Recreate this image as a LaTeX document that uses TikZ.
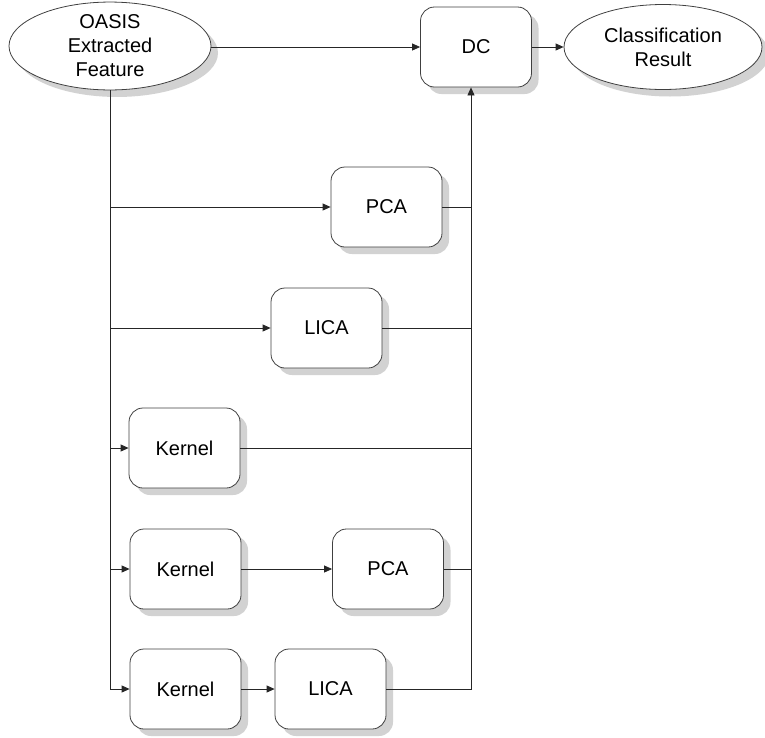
\documentclass[tikz,border=0pt]{standalone}
\usepackage{fontspec}
\setmainfont{Liberation Sans}
\usepackage{xcolor}
\usepackage{tikz}
\usetikzlibrary{arrows.meta,positioning,calc,shapes.geometric,shadows}
\definecolor{edge}{HTML}{404040}
\definecolor{shade}{HTML}{D2D2D2}

\begin{document}
\begin{tikzpicture}[x=1pt, y=-1pt,
  font=\fontsize{20}{24}\selectfont,
  blk/.style={draw=edge, fill=white, rounded corners=14pt, align=center,
              minimum width=111pt, minimum height=80pt, inner sep=2pt, line width=0.8pt,
              drop shadow={shadow xshift=7pt, shadow yshift=-7pt, fill=shade, opacity=1}},
  ell/.style={ellipse, draw=edge, fill=white, align=center, inner sep=0pt,
              minimum width=#1, minimum height=85pt, line width=0.8pt,
              drop shadow={shadow xshift=7pt, shadow yshift=-7pt, fill=shade, opacity=1}},
  ell/.default=202pt,
  ln/.style={draw=black!85, line width=0.8pt},
  arr/.style={ln, -{Triangle[length=8pt, width=7pt]}}]
\useasboundingbox (0,0) rectangle (765,737);
\node[ell=202pt] (oasis) at (110,46) {OASIS\\Extracted\\Feature};
\node[blk] (dc) at (476,47) {DC};
\node[ell=198pt] (res) at (663,47) {Classification\\Result};
\node[blk] (pca1) at (386.5,207) {PCA};
\node[blk] (lica1) at (326.5,328) {LICA};
\node[blk] (k1) at (184.5,448) {Kernel};
\node[blk] (k2) at (185.5,569) {Kernel};
\node[blk] (pca2) at (388,569) {PCA};
\node[blk] (k3) at (185.5,689) {Kernel};
\node[blk] (lica2) at (330.5,689) {LICA};
% top row
\draw[arr] (oasis.east |- dc) -- (dc.west);
\draw[arr] (dc.east) -- (res.west);
% left bus
\draw[arr] (oasis.south) |- (k3.west);
\foreach \n in {pca1, lica1, k1, k2} \draw[arr] (oasis.south |- \n) -- (\n.west);
\draw[arr] (k2.east) -- (pca2.west);
\draw[arr] (k3.east) -- (lica2.west);
% right bus into DC
\draw[arr] (lica2.east) -| ([xshift=-5pt]dc.south);
\foreach \n in {pca1, lica1, k1, pca2} \draw[ln] (\n.east) -- ([xshift=-5pt]dc.south |- \n);
\end{tikzpicture}
\end{document}
